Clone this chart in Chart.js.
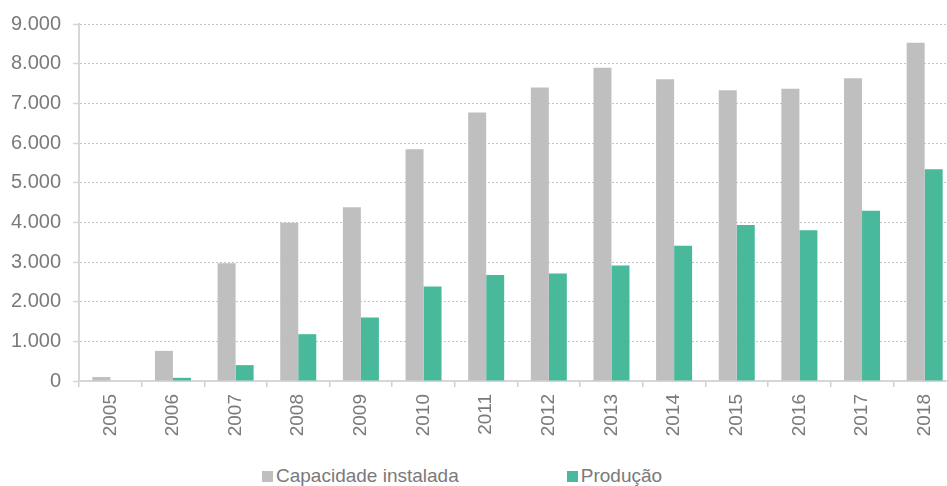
<!DOCTYPE html>
<html>
<head>
<meta charset="utf-8">
<script src="https://cdn.jsdelivr.net/npm/chart.js@4/dist/chart.umd.min.js"></script>
<style>
  html, body { margin: 0; padding: 0; background: #fff; overflow: hidden; }
  .chart-wrap { position: relative; width: 960px; height: 450px; }
  .chart-legend {
    position: absolute; left: 262px; top: 465px;
    display: flex; gap: 108px;
    font-family: 'Liberation Sans', Arial, sans-serif; font-size: 19px; color: #7a7a7a;
  }
  .legend-item { display: flex; align-items: center; }
  .legend-dot { width: 11px; height: 11px; margin-right: 3px; }
</style>
</head>
<body>
<div class="chart-wrap"><canvas id="chart"></canvas></div>
<div class="chart-legend" id="legend"></div>
<script>
// ── Data ──
const years = ['2005', '2006', '2007', '2008', '2009', '2010', '2011',
               '2012', '2013', '2014', '2015', '2016', '2017', '2018'];
const capacidade = [100, 760, 2970, 3990, 4380, 5840, 6770, 7400, 7900, 7610, 7330, 7370, 7630, 8530];
const producao   = [0, 80, 400, 1180, 1600, 2380, 2670, 2710, 2910, 3410, 3930, 3800, 4290, 5340];
const yTicks = [0, 1000, 2000, 3000, 4000, 5000, 6000, 7000, 8000, 9000];

const GREY = '#bfbfbf';
const GREEN = '#49b99b';
const TEXT = '#7a7a7a';
const FONT = "'Liberation Sans', Arial, sans-serif";

// 9000 -> "9.000"
const fmt = (v) => String(v).replace(/\B(?=(\d{3})+(?!\d))/g, '.');

const datasets = [
  { label: 'Capacidade instalada', data: capacidade, backgroundColor: GREY },
  { label: 'Produção', data: producao, backgroundColor: GREEN },
];

const ctx = document.getElementById('chart').getContext('2d');
const chart = new Chart(ctx, {
  type: 'bar',
  data: { labels: years, datasets },
  options: {
    responsive: true,
    maintainAspectRatio: false,
    animation: false,
    datasets: { bar: { categoryPercentage: 0.575, barPercentage: 1.0 } },
    layout: { padding: { left: 11, top: 24, right: 4, bottom: 0 } },
    scales: {
      x: {
        ticks: {
          color: TEXT,
          font: { family: FONT, size: 19 },
          minRotation: 90,
          maxRotation: 90,
          padding: 7,
        },
        grid: {
          drawOnChartArea: false,
          drawTicks: true,
          tickLength: 6,
          color: '#d0d0d0',
          lineWidth: 1.5,
        },
        border: { color: '#d6d6d6', width: 2 },
        afterFit: (scale) => { scale.height = 69; },
      },
      y: {
        min: 0,
        max: 9000,
        afterBuildTicks: (scale) => { scale.ticks = yTicks.map((v) => ({ value: v })); },
        ticks: {
          color: TEXT,
          font: { family: FONT, size: 20 },
          padding: 12,
          callback: (v) => fmt(v),
        },
        grid: {
          color: '#c4c4c4',
          lineWidth: 1,
          tickLength: 6,
          tickColor: '#d6d6d6',
          tickWidth: 1.5,
          tickBorderDash: [],
        },
        border: { color: '#d6d6d6', width: 2, dash: [2, 2] },
        afterFit: (scale) => { scale.width = 68; },
      },
    },
    plugins: {
      legend: { display: false },
      tooltip: { enabled: false },
    },
  },
});

// HTML legend from the datasets
document.getElementById('legend').innerHTML = datasets
  .map((d) => `<div class="legend-item"><div class="legend-dot" style="background:${d.backgroundColor}"></div>${d.label}</div>`)
  .join('');
</script>
</body>
</html>
